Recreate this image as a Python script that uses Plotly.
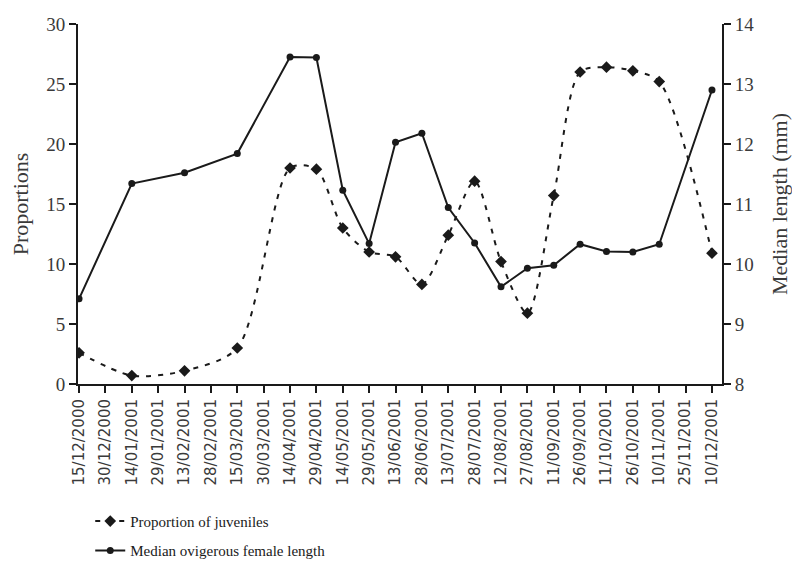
import plotly.graph_objects as go

dates = ["15/12/2000", "30/12/2000", "14/01/2001", "29/01/2001", "13/02/2001",
         "28/02/2001", "15/03/2001", "30/03/2001", "14/04/2001", "29/04/2001",
         "14/05/2001", "29/05/2001", "13/06/2001", "28/06/2001", "13/07/2001",
         "28/07/2001", "12/08/2001", "27/08/2001", "11/09/2001", "26/09/2001",
         "11/10/2001", "26/10/2001", "10/11/2001", "25/11/2001", "10/12/2001"]

proportion_juveniles = [2.6, None, 0.7, None, 1.1, None, 3.0, None, 18.0, 17.9,
                        13.0, 11.0, 10.6, 8.3, 12.4, 16.9, 10.2, 5.9, 15.7, 26.0,
                        26.4, 26.1, 25.2, None, 10.9]

median_length = [9.42, None, 11.34, None, 11.52, None, 11.84, None, 13.45, 13.44,
                 11.23, 10.34, 12.03, 12.18, 10.94, 10.35, 9.62, 9.93, 9.98, 10.33,
                 10.21, 10.2, 10.33, None, 12.9]

idx = list(range(len(dates)))
FONT = "Liberation Serif"
INK = "#1a1a1a"
GRAY = "#3a3a3a"

fig = go.Figure()
fig.add_trace(go.Scatter(
    x=idx, y=proportion_juveniles, name="Proportion of juveniles",
    mode="lines+markers", connectgaps=True, line_shape="spline",
    line=dict(color=INK, width=2, dash="5px,7px", smoothing=0.8),
    marker=dict(symbol="diamond", size=9, color=INK),
    legendgroup="a", yaxis="y"))
fig.add_trace(go.Scatter(
    x=idx, y=median_length, name="Median ovigerous female length",
    mode="lines+markers", connectgaps=True,
    line=dict(color=INK, width=2),
    marker=dict(symbol="circle", size=7, color=INK),
    legendgroup="b", yaxis="y2"))

fig.update_layout(
    width=784, height=552,
    margin=dict(l=70, r=70, t=16, b=176),
    paper_bgcolor="white", plot_bgcolor="white",
    font=dict(family=FONT, color=INK, size=16),
    showlegend=True,
    legend=dict(xref="paper", yref="container", x=0.019, xanchor="left",
                y=0.1, yanchor="top",
                font=dict(family=FONT, size=15, color=INK),
                tracegroupgap=7, bgcolor="rgba(0,0,0,0)"),
    xaxis=dict(range=[-0.04, 24.38], tickmode="array", tickvals=idx, ticktext=dates,
               tickangle=-90, tickfont=dict(family="DejaVu Sans", size=15, color=GRAY),
               automargin=False,
               showgrid=False, zeroline=False, showline=True, linecolor=INK, linewidth=2,
               ticks="outside", ticklen=7, tickwidth=2, tickcolor=INK),
    yaxis=dict(range=[0, 30], dtick=5, showgrid=False, zeroline=False, automargin=False,
               showline=True, linecolor=INK, linewidth=2,
               ticks="outside", ticklen=7, tickwidth=2, tickcolor=INK,
               tickfont=dict(family=FONT, size=19, color=GRAY),
               title=dict(text="Proportions", font=dict(family=FONT, size=22, color=GRAY),
                          standoff=12)),
    yaxis2=dict(range=[8, 14], dtick=1, overlaying="y", side="right", automargin=False,
                showgrid=False, zeroline=False, showline=True, linecolor=INK, linewidth=2,
                ticks="outside", ticklen=7, tickwidth=2, tickcolor=INK,
                tickfont=dict(family=FONT, size=19, color=GRAY),
                title=dict(text="Median length (mm)", font=dict(family=FONT, size=22, color=GRAY),
                           standoff=18)),
)

fig.write_html("out.html")
